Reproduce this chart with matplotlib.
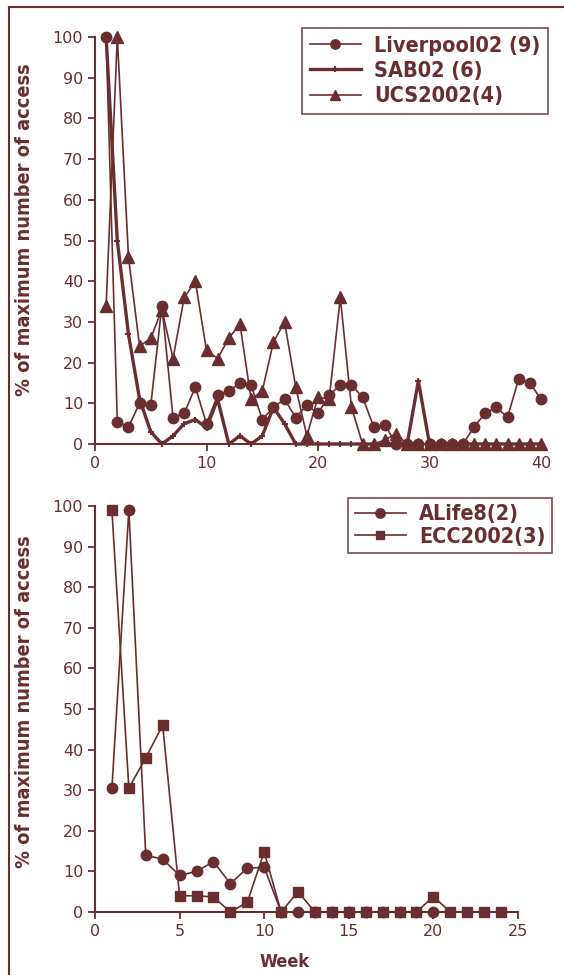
import matplotlib.pyplot as plt
from matplotlib.lines import Line2D
from matplotlib import font_manager

# colour used by the whole chart
C = '#6b2e2e'

# ---- top chart data (week 1..40) ----
weeks_top = list(range(1, 41))
liverpool = [100, 5.5, 4.2, 10, 9.5, 34, 6.5, 7.5, 14, 5,
             12, 13, 15, 14.5, 6, 9, 11, 6.5, 9.5, 7.5,
             12, 14.5, 14.5, 11.5, 4.2, 4.7, 0, 0, 0, 0,
             0, 0, 0, 4.2, 7.6, 9, 6.6, 16, 15, 11]
sab = [100, 50, 27, 11, 3, 0, 2, 5, 6, 4,
       11, 0, 2, 0, 2, 9, 5, 0, 0, 0,
       0, 0, 0, 0, 0, 0, 0, 0, 15.5, 0,
       0, 0, 0, 0, 0, 0, 0, 0, 0, 0]
ucs = [34, 100, 46, 24, 26, 33, 21, 36, 40, 23,
       21, 26, 29.5, 11, 13, 25, 30, 14, 2, 11.5,
       11, 36, 9, 0, 0, 1, 2.5, 0, 0, 0,
       0, 0, 0, 0, 0, 0, 0, 0, 0, 0]

# ---- bottom chart data ----
weeks_alife = list(range(1, 21))
alife = [30.5, 99, 14, 13, 9, 10, 12.4, 7, 10.8, 11,
         0, 0, 0, 0, 0, 0, 0, 0, 0, 0]
weeks_ecc = list(range(1, 25))
ecc = [99, 30.5, 38, 46, 4, 4, 3.7, 0, 2.4, 14.8,
       0, 5, 0, 0, 0, 0, 0, 0, 0, 3.8,
       0, 0, 0, 0]

W, H = 564, 975
fig = plt.figure(figsize=(W / 100, H / 100), dpi=100)
fig.patch.set_facecolor('white')

LEGFONT = font_manager.FontProperties(family='DejaVu Sans', weight='bold',
                                      stretch='condensed', size=15.5)


def style_axes(ax):
    for s in ['top', 'right']:
        ax.spines[s].set_visible(False)
    for s in ['left', 'bottom']:
        ax.spines[s].set_color(C)
        ax.spines[s].set_linewidth(1.5)
    ax.tick_params(colors=C, labelcolor=C, labelsize=11.5, direction='out',
                   length=5, width=1.3)
    ax.set_ylim(0, 100)
    ax.set_yticks(range(0, 101, 10))


def style_legend(leg):
    leg.get_frame().set_edgecolor(C)
    leg.get_frame().set_linewidth(1.3)
    for t in leg.get_texts():
        t.set_color(C)


# top chart
ax1 = fig.add_axes([95 / W, 1 - 444 / H, 446 / W, 407 / H])
ax1.plot(weeks_top, liverpool, color=C, lw=1.2, marker='o', ms=7.5,
         label='Liverpool02 (9)')
ax1.plot(weeks_top, sab, color=C, lw=2.4, marker='+', ms=5, mew=1.5,
         label='SAB02 (6)')
ax1.plot(weeks_top, ucs, color=C, lw=1.2, marker='^', ms=8.5,
         label='UCS2002(4)')
ax1.set_xlim(0, 40)
ax1.set_xticks(range(0, 41, 10))
style_axes(ax1)
leg1 = ax1.legend(loc='upper right', bbox_to_anchor=(548 / W, 1 - 28 / H),
                  bbox_transform=fig.transFigure, frameon=True, fancybox=False,
                  prop=LEGFONT, handlelength=2.4, markerscale=0.9,
                  borderpad=0.35, labelspacing=0.25, handletextpad=0.6,
                  borderaxespad=0)
style_legend(leg1)

# bottom chart
ax2 = fig.add_axes([95 / W, 1 - 912 / H, 423 / W, 406 / H])
ax2.plot(weeks_alife, alife, color=C, lw=1.2, marker='o', ms=7.5,
         label='ALife8(2)')
ax2.plot(weeks_ecc, ecc, color=C, lw=1.2, marker='s', ms=7,
         label='ECC2002(3)')
ax2.set_xlim(0, 25)
ax2.set_xticks(range(0, 26, 5))
style_axes(ax2)
leg2 = ax2.legend(loc='upper right', bbox_to_anchor=(552 / W, 1 - 498 / H),
                  bbox_transform=fig.transFigure, frameon=True, fancybox=False,
                  prop=LEGFONT, handlelength=2.4, markerscale=0.9,
                  borderpad=0.3, labelspacing=0.1, handletextpad=0.6,
                  borderaxespad=0)
style_legend(leg2)

for a in (ax1, ax2):
    for ln in a.get_lines():
        ln.set_clip_on(False)

# axis titles
for yc in (230, 702):
    fig.text(25 / W, 1 - yc / H, '% of maximum number of access', rotation=90,
             ha='center', va='center', color=C, fontsize=14.3,
             fontweight='bold', fontstretch='condensed')
fig.text(285 / W, 1 - 962 / H, 'Week', ha='center', va='center', color=C,
         fontsize=13, fontweight='bold', fontstretch='condensed')

# outer frame (left and top edges)
fig.add_artist(Line2D([9 / W, 9 / W], [0, 1 - 7 / H], color=C, lw=1.5,
                      transform=fig.transFigure))
fig.add_artist(Line2D([9 / W, 1], [1 - 7 / H, 1 - 7 / H], color=C, lw=1.5,
                      transform=fig.transFigure))

fig.savefig('out.png', dpi=100)
